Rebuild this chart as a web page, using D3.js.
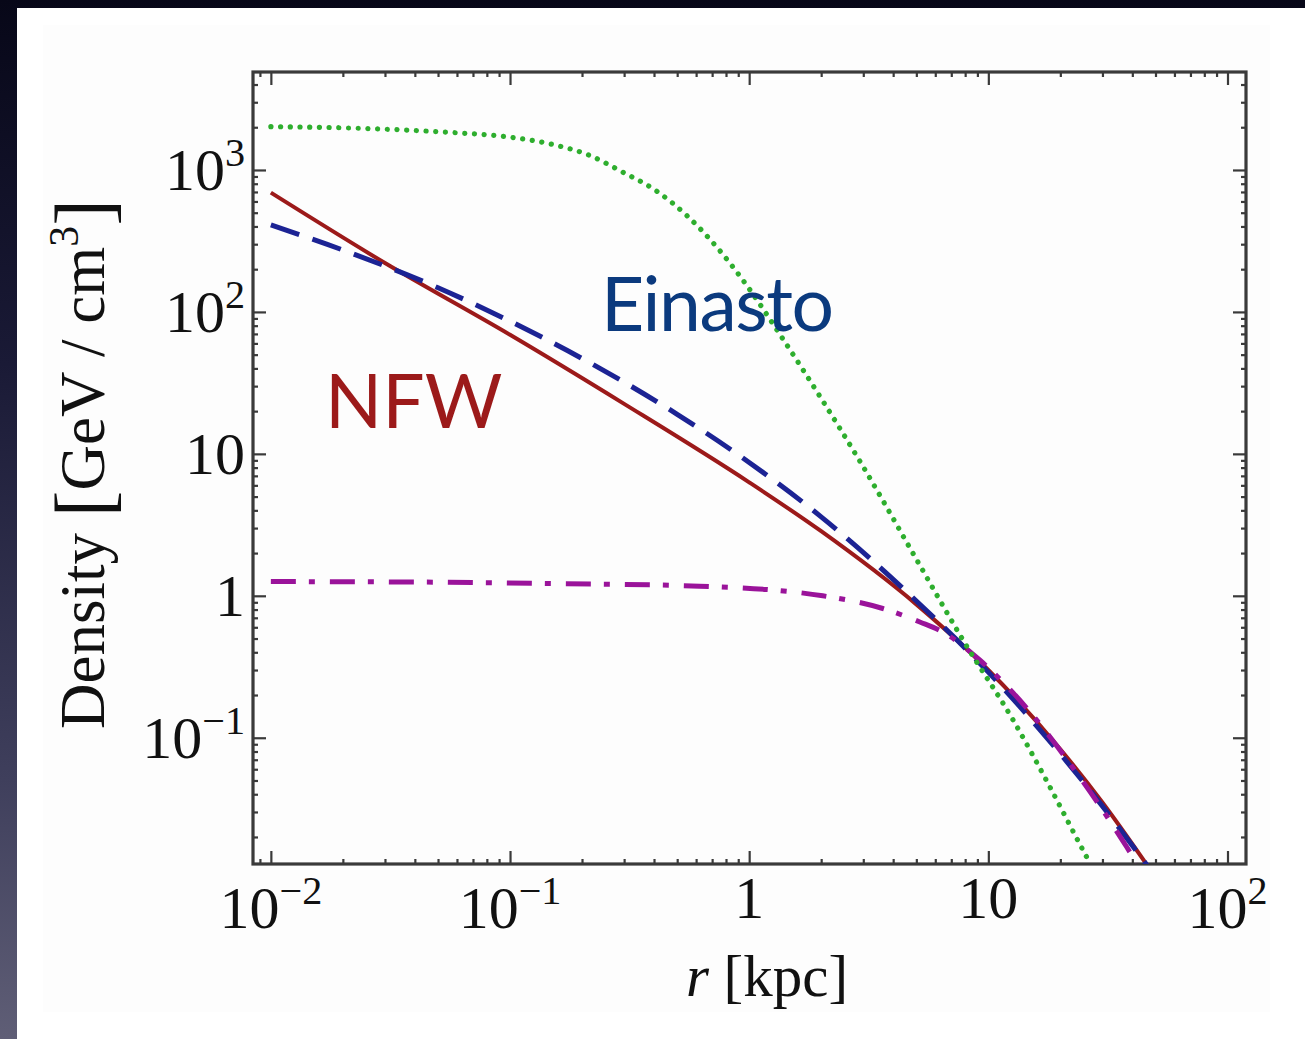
<!DOCTYPE html>
<html>
<head>
<meta charset="utf-8">
<script src="https://cdn.jsdelivr.net/npm/d3@7"></script>
<style>
html,body{margin:0;padding:0;overflow:hidden;background:#0a0a1e;}
svg{display:block;}
</style>
</head>
<body>
<svg id="chart" width="1305" height="1039"></svg>
<script>
// ---------- data ----------
const xDomain = [0.00842, 119.5];     // r [kpc], visible range of frame
const yDomain = [0.0129, 4900];       // density, visible range of frame

const xMajor = [0.01, 0.1, 1, 10, 100];
const xTickLabels = [["10","−2"],["10","−1"],["1",""],["10",""],["10","2"]];
const yMajor = [0.1, 1, 10, 100, 1000];
const yTickLabels = [["10","−1"],["1",""],["10",""],["10","2"],["10","3"]];

// NFW (red, solid)
const nfwR   = [0.01, 0.03, 0.1, 0.3, 1, 2, 5, 10, 20, 30, 47];
const nfwRho = [692, 221, 69, 22.5, 6.3, 2.85, 0.87, 0.30, 0.083, 0.035, 0.0121];

// Einasto (blue, dashed)
const einR   = [0.01, 0.02, 0.05, 0.1, 0.2, 0.5, 1, 2, 5, 10, 20, 30, 48];
const einRho = [410, 273, 148, 86, 47, 19, 8.7, 3.6, 0.92, 0.29, 0.077, 0.033, 0.0115];

// green, dotted (cored, steep)
const grnR   = [0.01, 0.0225, 0.0588, 0.0951, 0.154, 0.212, 0.293, 0.403, 0.554, 0.768, 0.987, 1.34, 1.97, 2.90, 5.02, 7.82, 12.7, 17.5, 25.8, 26.8];
const grnRho = [2020, 1970, 1830, 1720, 1500, 1280, 974, 724, 470, 260, 150, 70, 25.6, 8.9, 1.79, 0.49, 0.133, 0.050, 0.0144, 0.0128];

// purple, dot-dashed (isothermal-like)
const isoR   = [0.01, 0.042, 0.147, 0.62, 2.03, 3.62, 5.17, 6.45, 9.2, 12.7, 24.1, 37.9, 41.7];
const isoRho = [1.26, 1.25, 1.22, 1.17, 1.00, 0.814, 0.654, 0.556, 0.353, 0.207, 0.0528, 0.0170, 0.0131];

const labelNFW = "NFW";
const labelEin = "Einasto";

// ---------- drawing ----------
const svg = d3.select("#chart");
const W = 1305, H = 1039;
const L = 253, R = 1246, T = 72, B = 864;

const defs = svg.append("defs");
const bg = defs.append("linearGradient").attr("id","bgGrad").attr("x1",0).attr("y1",0).attr("x2",0).attr("y2",1);
bg.append("stop").attr("offset","0%").attr("stop-color","#070718");
bg.append("stop").attr("offset","35%").attr("stop-color","#1a1a36");
bg.append("stop").attr("offset","75%").attr("stop-color","#3f3f5c");
bg.append("stop").attr("offset","100%").attr("stop-color","#5f5e76");
defs.append("clipPath").attr("id","plotClip").append("rect")
  .attr("x",L).attr("y",T).attr("width",R-L).attr("height",B-T);

svg.append("rect").attr("width",W).attr("height",H).attr("fill","url(#bgGrad)");
svg.append("rect").attr("x",17).attr("y",8).attr("width",W-17).attr("height",H-8).attr("fill","#ffffff");
svg.append("rect").attr("x",43).attr("y",25).attr("width",1227).attr("height",987).attr("fill","#fdfdfd");

const x = d3.scaleLog().domain(xDomain).range([L, R]);
const y = d3.scaleLog().domain(yDomain).range([B, T]);

function minorTicks(dom){
  const out = [];
  for (let k = -4; k <= 4; k++) for (let m = 2; m <= 9; m++) {
    const v = m * Math.pow(10, k);
    if (v >= dom[0] && v <= dom[1]) out.push(v);
  }
  return out;
}
const xMinor = minorTicks(xDomain);
const yMinor = minorTicks(yDomain);

const tickColor = "#3a3a3a";
function drawAxis(gen, tx, ty, vals, size){
  const g = svg.append("g").attr("transform",`translate(${tx},${ty})`)
    .call(gen.tickValues(vals).tickSizeInner(-size).tickSizeOuter(0).tickFormat(""));
  g.select(".domain").remove();
  g.selectAll(".tick line").attr("stroke",tickColor).attr("stroke-width",2.2);
}
drawAxis(d3.axisBottom(x), 0, B, xMinor, 5);
drawAxis(d3.axisBottom(x), 0, B, xMajor, 13);
drawAxis(d3.axisTop(x), 0, T, xMinor, 5);
drawAxis(d3.axisTop(x), 0, T, xMajor, 13);
drawAxis(d3.axisLeft(y), L, 0, yMinor, 5);
drawAxis(d3.axisLeft(y), L, 0, yMajor, 13);
drawAxis(d3.axisRight(y), R, 0, yMinor, 5);
drawAxis(d3.axisRight(y), R, 0, yMajor, 13);

svg.append("rect").attr("x",L).attr("y",T).attr("width",R-L).attr("height",B-T)
  .attr("fill","none").attr("stroke","#3a3a3a").attr("stroke-width",3.2);

// curves
const line = d3.line().x(d => x(d[0])).y(d => y(d[1])).curve(d3.curveMonotoneX);
const plot = svg.append("g").attr("clip-path","url(#plotClip)");
function series(rs, rhos){ return rs.map((r,i)=>[r, rhos[i]]); }

plot.append("path").attr("d", line(series(nfwR,nfwRho)))
  .attr("fill","none").attr("stroke","#9c1a1a").attr("stroke-width",4);
plot.append("path").attr("d", line(series(einR,einRho)))
  .attr("fill","none").attr("stroke","#1c2394").attr("stroke-width",5)
  .attr("stroke-dasharray","30 14");
plot.append("path").attr("d", line(series(isoR,isoRho)))
  .attr("fill","none").attr("stroke","#9a139a").attr("stroke-width",5)
  .attr("stroke-dasharray","25 13 6 15");
plot.append("path").attr("d", line(series(grnR,grnRho)))
  .attr("fill","none").attr("stroke","#2eae2e").attr("stroke-width",5.2)
  .attr("stroke-linecap","round").attr("stroke-dasharray","0.1 9.6");

// tick labels
const serif = "'Liberation Serif','Times New Roman',Times,serif";
function supLabel(parent, px, py, anchor, parts, size){
  const t = parent.append("text").attr("x",px).attr("y",py)
    .attr("text-anchor",anchor).attr("font-family",serif)
    .attr("font-size",size).attr("fill","#111");
  t.append("tspan").text(parts[0]);
  if (parts[1]) t.append("tspan").attr("dy",-size*0.4).attr("font-size",size*0.67).text(parts[1]);
  return t;
}
xMajor.forEach((v,i)=>{
  const p = xTickLabels[i];
  supLabel(svg, x(v), p[1] ? 928 : 918, "middle", p, 60);
});
yMajor.forEach((v,i)=>{
  supLabel(svg, 245, y(v)+20, "end", yTickLabels[i], 60);
});

// axis titles
const xt = svg.append("text").attr("x",767).attr("y",996).attr("text-anchor","middle")
  .attr("font-family",serif).attr("font-size",59).attr("fill","#111");
xt.append("tspan").attr("font-style","italic").text("r");
xt.append("tspan").text(" [kpc]");

const yt = svg.append("text").attr("transform","translate(104,464) rotate(-90)")
  .attr("text-anchor","middle").attr("font-family",serif).attr("font-size",63).attr("fill","#111");
yt.append("tspan").text("Density ");
yt.append("tspan").attr("font-size",80).attr("dy",6).text("[");
yt.append("tspan").attr("font-size",63).attr("dy",-6).text("GeV / cm");
yt.append("tspan").attr("font-size",42).attr("dy",-26).text("3");
yt.append("tspan").attr("font-size",80).attr("dy",32).text("]");

// curve name labels
svg.append("text").attr("x",325).attr("y",428).attr("font-family","Lato,'Open Sans',sans-serif")
  .attr("font-size",75).attr("fill","#9c1a1a").text(labelNFW);
svg.append("text").attr("x",601).attr("y",331).attr("font-family","Lato,'Open Sans',sans-serif")
  .attr("font-size",75).attr("fill","#0b3a7e").attr("letter-spacing",-1.5).text(labelEin);
</script>
</body>
</html>
